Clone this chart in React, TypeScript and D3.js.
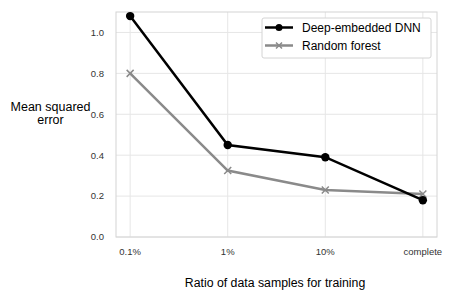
import React from "react";
import * as d3 from "d3";

const categories = ["0.1%", "1%", "10%", "complete"];
const dnnValues = [1.08, 0.45, 0.39, 0.18];
const rfValues = [0.8, 0.325, 0.23, 0.21];
const yTicks = [0, 0.2, 0.4, 0.6, 0.8, 1.0];
const seriesNames = ["Deep-embedded DNN", "Random forest"];

export default function App() {
  const W = 450, H = 300;
  const left = 116, right = 437, top = 12, bottom = 237;
  const x = d3.scalePoint<string>().domain(categories).range([left, right]).padding(0.145);
  const y = d3.scaleLinear().domain([0, 1.1]).range([bottom, top]);
  const line = d3.line<number>().x((_, i) => x(categories[i])!).y((d) => y(d));
  const font = "Liberation Sans, Arial, sans-serif";
  const rfColor = "#8a8a8a";
  const xMark = (cx: number, cy: number, s: number, color: string, key: string) => (
    <path key={key} d={`M${cx - s},${cy - s}L${cx + s},${cy + s}M${cx - s},${cy + s}L${cx + s},${cy - s}`} stroke={color} strokeWidth={1.5} fill="none" />
  );
  return (
    <svg width={W} height={H} style={{ position: "absolute", left: 0, top: 0 }} fontFamily={font}>
      <rect x={0} y={0} width={W} height={H} fill="#fff" />
      {yTicks.map((t) => (
        <line key={"gy" + t} x1={left} x2={right} y1={y(t)} y2={y(t)} stroke="#e6e6e6" strokeWidth={1} />
      ))}
      {categories.map((c) => (
        <line key={"gx" + c} x1={x(c)} x2={x(c)} y1={top} y2={bottom} stroke="#e6e6e6" strokeWidth={1} />
      ))}
      <rect x={left} y={top} width={right - left} height={bottom - top} fill="none" stroke="#d4d4d4" strokeWidth={1} />
      {yTicks.map((t) => (
        <text key={"ty" + t} x={104} y={y(t)} dy="0.35em" textAnchor="end" fontSize={9.5} fill="#333">
          {t.toFixed(1)}
        </text>
      ))}
      {categories.map((c) => (
        <text key={"tx" + c} x={x(c)} y={255} textAnchor="middle" fontSize={9.5} fill="#333">
          {c}
        </text>
      ))}
      <path d={line(rfValues)!} fill="none" stroke={rfColor} strokeWidth={2.5} />
      {rfValues.map((v, i) => xMark(x(categories[i])!, y(v), 3.5, rfColor, "rf" + i))}
      <path d={line(dnnValues)!} fill="none" stroke="#000" strokeWidth={2.5} />
      {dnnValues.map((v, i) => (
        <circle key={"d" + i} cx={x(categories[i])} cy={y(v)} r={4.2} fill="#000" />
      ))}
      <g>
        <rect x={262} y={18} width={169} height={40} rx={2} fill="#fff" stroke="#d4d4d4" />
        <line x1={265} x2={293} y1={27.5} y2={27.5} stroke="#000" strokeWidth={2.5} />
        <circle cx={279} cy={27.5} r={3.5} fill="#000" />
        <text x={302} y={27.5} dy="0.35em" fontSize={12} fill="#000">{seriesNames[0]}</text>
        <line x1={265} x2={293} y1={45.5} y2={45.5} stroke={rfColor} strokeWidth={2.5} />
        {xMark(279, 45.5, 3, rfColor, "lg")}
        <text x={302} y={45.5} dy="0.35em" fontSize={12} fill="#000">{seriesNames[1]}</text>
      </g>
      <text x={50.5} y={111} textAnchor="middle" fontSize={12.5} fill="#000">Mean squared</text>
      <text x={50.5} y={123.5} textAnchor="middle" fontSize={12.5} fill="#000">error</text>
      <text x={275} y={287} textAnchor="middle" fontSize={12.3} fill="#000">Ratio of data samples for training</text>
    </svg>
  );
}
